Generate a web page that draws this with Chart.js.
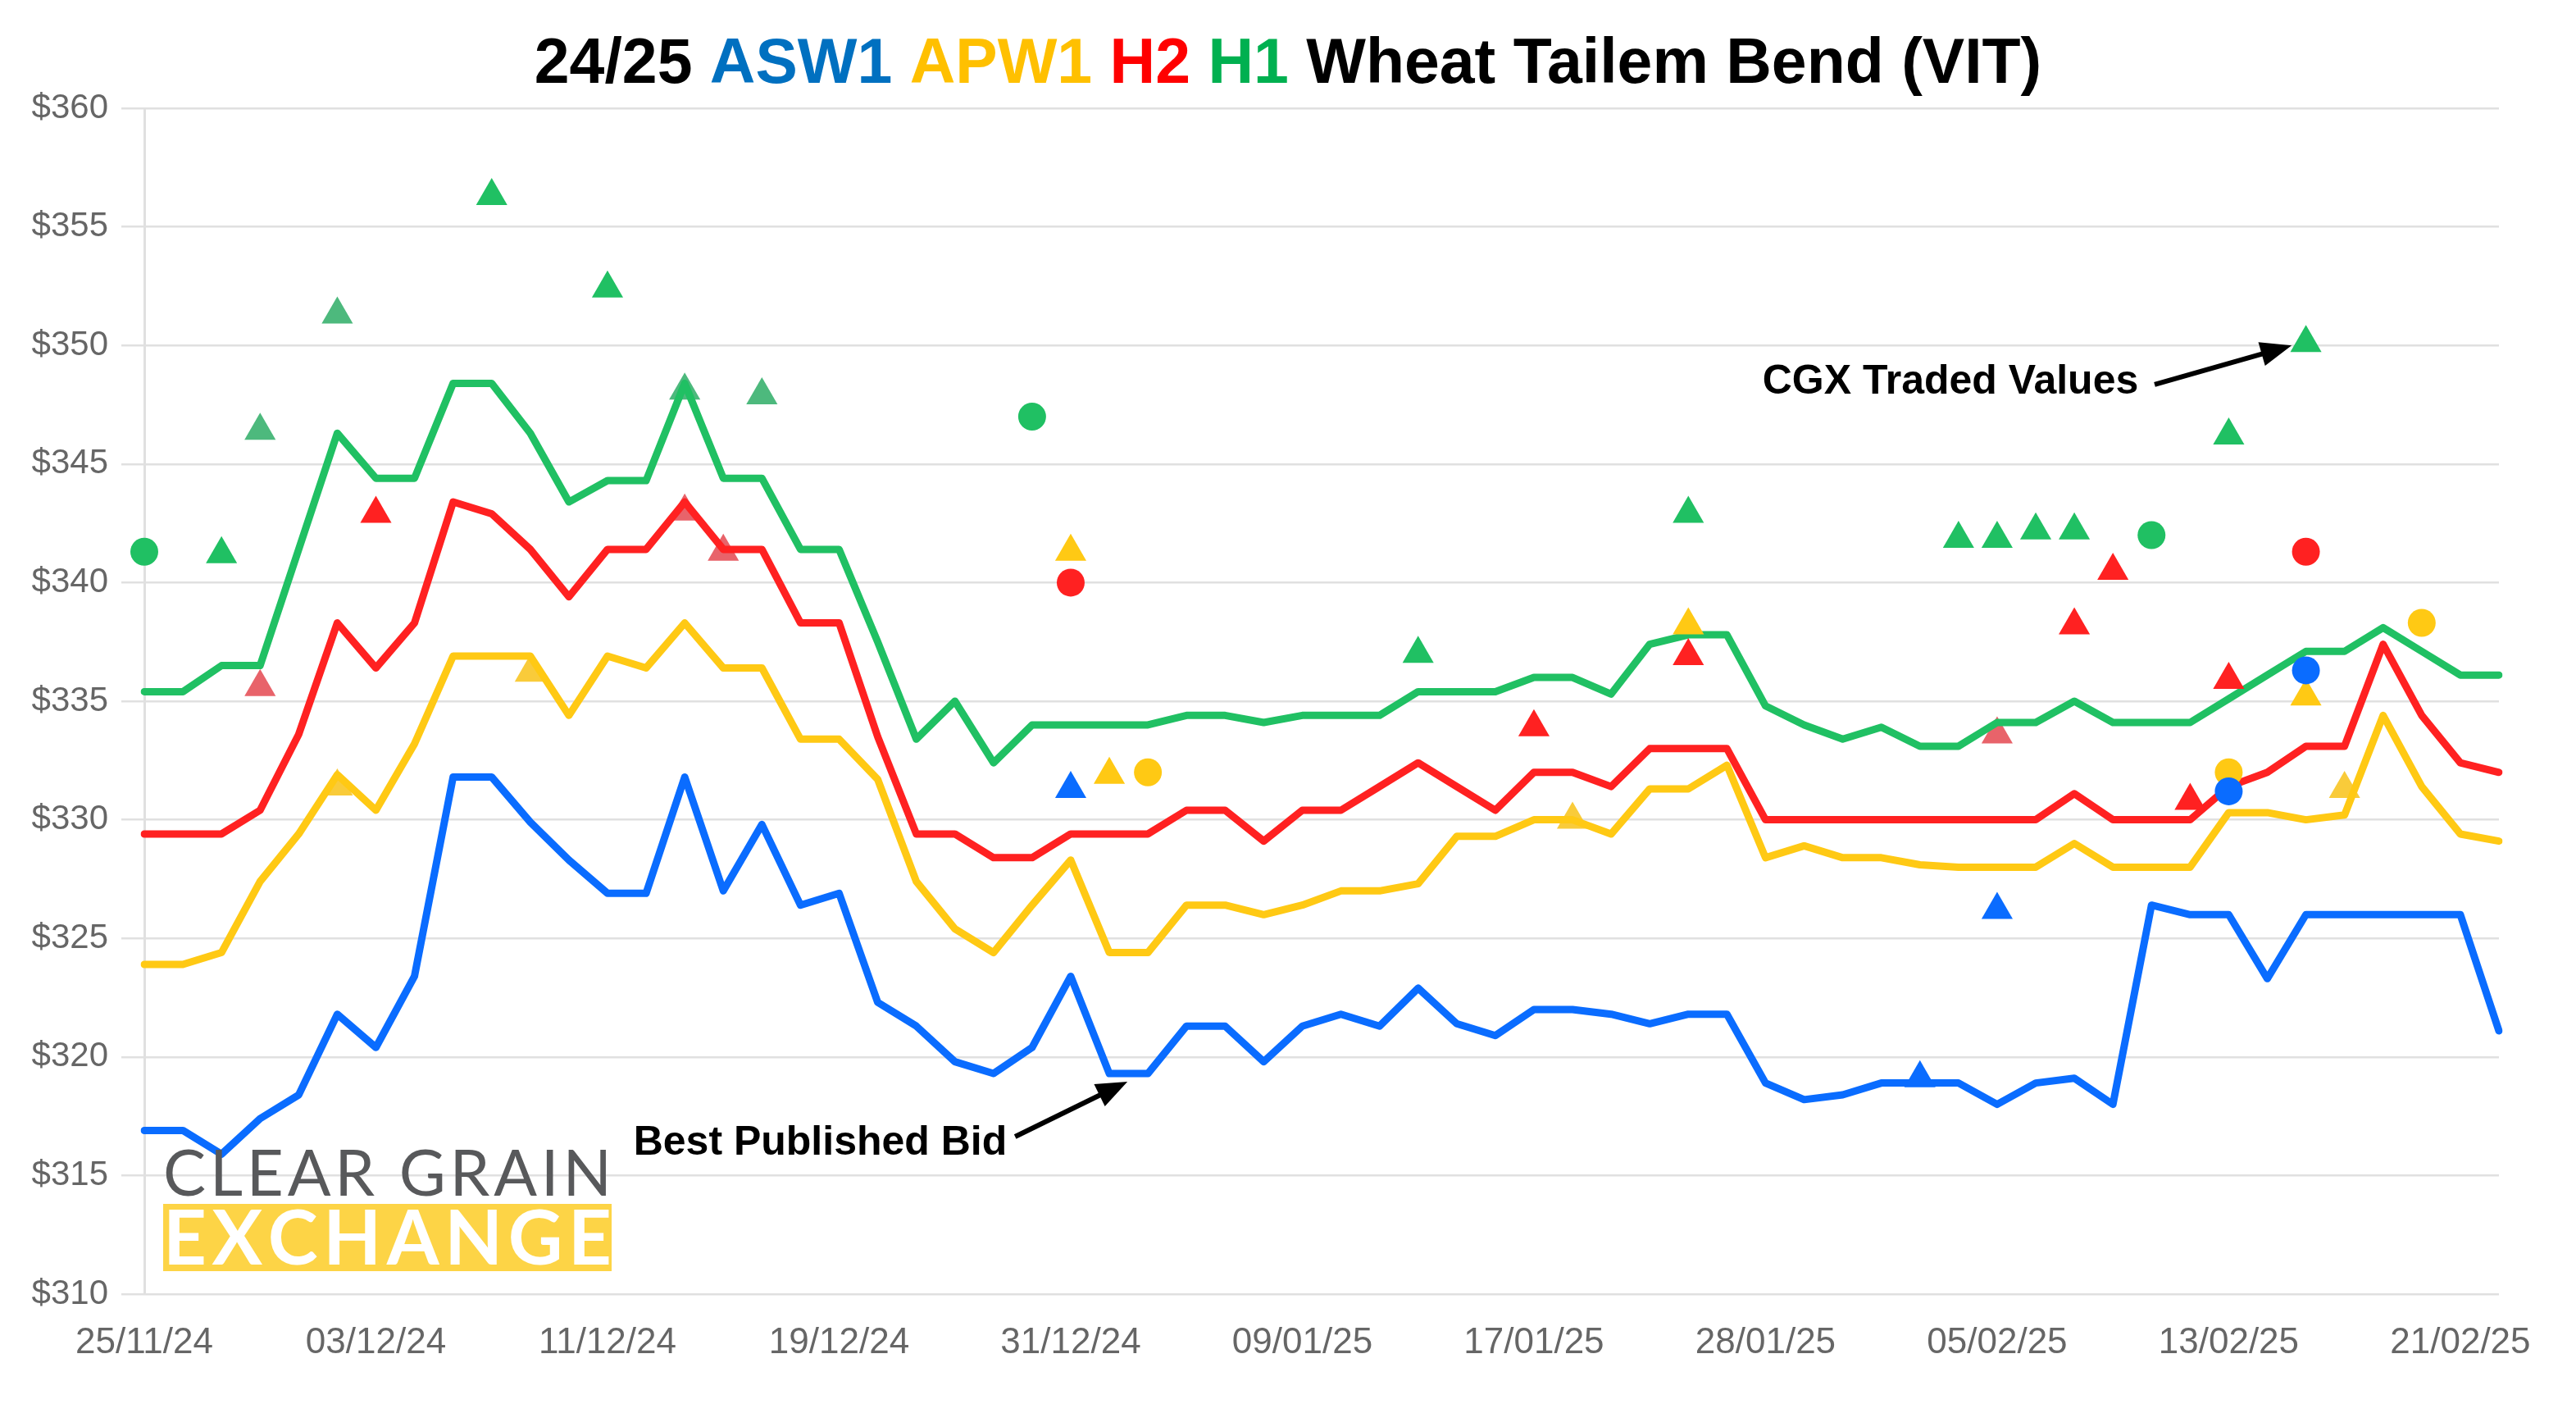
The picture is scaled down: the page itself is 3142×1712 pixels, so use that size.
<!DOCTYPE html>
<html>
<head>
<meta charset="utf-8">
<script src="https://cdn.jsdelivr.net/npm/chart.js@4.4.1/dist/chart.umd.min.js"></script>
<style>
  html, body { margin: 0; padding: 0; background: #fff; }
  #wrap { width: 3142px; height: 1712px; position: relative; }
</style>
</head>
<body>
<div id="wrap"><canvas id="graph"></canvas></div>
<script>
// trading days
const dates = [
  '25/11/24','26/11/24','27/11/24','28/11/24','29/11/24','02/12/24','03/12/24','04/12/24','05/12/24','06/12/24',
  '09/12/24','10/12/24','11/12/24','12/12/24','13/12/24','16/12/24','17/12/24','18/12/24','19/12/24','20/12/24',
  '23/12/24','24/12/24','27/12/24','30/12/24','31/12/24','02/01/25','03/01/25','06/01/25','07/01/25','08/01/25',
  '09/01/25','10/01/25','13/01/25','14/01/25','15/01/25','16/01/25','17/01/25','20/01/25','21/01/25','22/01/25',
  '23/01/25','24/01/25','28/01/25','29/01/25','30/01/25','31/01/25','03/02/25','04/02/25','05/02/25','06/02/25',
  '07/02/25','10/02/25','11/02/25','12/02/25','13/02/25','14/02/25','17/02/25','18/02/25','19/02/25','20/02/25',
  '21/02/25','24/02/25'
];

// best published bids
const asw1Bid = [
  316.9, 316.9, 315.9, 317.4, 318.4, 321.8, 320.4, 323.4, 331.8, 331.8,
  329.9, 328.3, 326.9, 326.9, 331.8, 327.0, 329.8, 326.4, 326.9, 322.3,
  321.3, 319.8, 319.3, 320.4, 323.4, 319.3, 319.3, 321.3, 321.3, 319.8,
  321.3, 321.8, 321.3, 322.9, 321.4, 320.9, 322.0, 322.0, 321.8, 321.4,
  321.8, 321.8, 318.9, 318.2, 318.4, 318.9, 318.9, 318.9, 318.0, 318.9,
  319.1, 318.0, 326.4, 326.0, 326.0, 323.3, 326.0, 326.0, 326.0, 326.0,
  326.0, 321.1
];
const apw1Bid = [
  323.9, 323.9, 324.4, 327.4, 329.4, 331.9, 330.4, 333.2, 336.9, 336.9,
  336.9, 334.4, 336.9, 336.4, 338.3, 336.4, 336.4, 333.4, 333.4, 331.7,
  327.4, 325.4, 324.4, 326.4, 328.3, 324.4, 324.4, 326.4, 326.4, 326.0,
  326.4, 327.0, 327.0, 327.3, 329.3, 329.3, 330.0, 330.0, 329.4, 331.3,
  331.3, 332.3, 328.4, 328.9, 328.4, 328.4, 328.1, 328.0, 328.0, 328.0,
  329.0, 328.0, 328.0, 328.0, 330.3, 330.3, 330.0, 330.2, 334.4, 331.4,
  329.4, 329.1
];
const h2Bid = [
  329.4, 329.4, 329.4, 330.4, 333.6, 338.3, 336.4, 338.3, 343.4, 342.9,
  341.4, 339.4, 341.4, 341.4, 343.4, 341.4, 341.4, 338.3, 338.3, 333.5,
  329.4, 329.4, 328.4, 328.4, 329.4, 329.4, 329.4, 330.4, 330.4, 329.1,
  330.4, 330.4, 331.4, 332.4, 331.4, 330.4, 332.0, 332.0, 331.4, 333.0,
  333.0, 333.0, 330.0, 330.0, 330.0, 330.0, 330.0, 330.0, 330.0, 330.0,
  331.1, 330.0, 330.0, 330.0, 331.4, 332.0, 333.1, 333.1, 337.4, 334.4,
  332.4, 332.0
];
const h1Bid = [
  335.4, 335.4, 336.5, 336.5, 341.4, 346.3, 344.4, 344.4, 348.4, 348.4,
  346.3, 343.4, 344.3, 344.3, 348.4, 344.4, 344.4, 341.4, 341.4, 337.5,
  333.4, 335.0, 332.4, 334.0, 334.0, 334.0, 334.0, 334.4, 334.4, 334.1,
  334.4, 334.4, 334.4, 335.4, 335.4, 335.4, 336.0, 336.0, 335.3, 337.4,
  337.8, 337.8, 334.8, 334.0, 333.4, 333.9, 333.1, 333.1, 334.1, 334.1,
  335.0, 334.1, 334.1, 334.1, 335.1, 336.1, 337.1, 337.1, 338.1, 337.1,
  336.1, 336.1
];

// CGX traded values: [day index, price]
const h1Tri = [[2, 341.2], [9, 356.3], [12, 352.4], [33, 337.0], [40, 342.9], [47, 341.85], [48, 341.85], [49, 342.2], [50, 342.2], [54, 346.2], [56, 350.1]];
const h1TriFaded = [[3, 346.4], [5, 351.3], [14, 348.1], [16, 347.9]];
const h1Dot = [[0, 341.3], [23, 347.0], [52, 342.0]];
const h2Tri = [[6, 342.9], [36, 333.9], [40, 336.9], [50, 338.2], [51, 340.5], [53, 330.8], [54, 335.9]];
const h2TriFaded = [[3, 335.6], [14, 343.0], [15, 341.3], [48, 333.6]];
const h2Dot = [[24, 340.0], [56, 341.3]];
const apw1Tri = [[24, 341.3], [25, 331.9], [40, 338.2], [56, 335.2]];
const apw1TriFaded = [[5, 331.4], [10, 336.2], [37, 330.0], [57, 331.3]];
const apw1Dot = [[26, 332.0], [54, 332.0], [59, 338.3]];
const asw1Tri = [[24, 331.3], [46, 319.1], [48, 326.2]];
const asw1Dot = [[54, 331.2], [56, 336.3]];

const BLUE = '#0a6cff', YELLOW = '#ffc914', RED = '#ff2121', GREEN = '#20c063';

function toPoints(list) {
  return list.map(([i, v]) => ({ x: dates[i], y: v }));
}

function bidLine(label, data, color) {
  return {
    label, data,
    borderColor: color, backgroundColor: color,
    borderWidth: 9, pointRadius: 0, tension: 0,
    borderJoinStyle: 'round', borderCapStyle: 'round',
    order: 2
  };
}

function marks(label, list, color, style, order) {
  return {
    label, data: toPoints(list),
    showLine: false,
    pointStyle: style,
    pointRadius: style === 'triangle' ? 22 : 17,
    pointBackgroundColor: color, pointBorderColor: color, pointBorderWidth: 0,
    order
  };
}

Chart.defaults.font.family = '"Liberation Sans", Arial, sans-serif';

const titleParts = [
  ['24/25 ', '#000'], ['ASW1 ', '#0070c0'], ['APW1 ', '#ffc000'],
  ['H2 ', '#ff0000'], ['H1 ', '#00b050'], ['Wheat Tailem Bend (VIT)', '#000']
];

// spread glyphs so the text fills a given width
function spreadText(ctx, text, x, y, width) {
  const chars = text.split('');
  const w0 = chars.reduce((s, c) => s + ctx.measureText(c).width, 0);
  const gap = (width - w0) / (chars.length - 1);
  chars.forEach(c => {
    ctx.fillText(c, x, y);
    x += ctx.measureText(c).width + gap;
  });
}

function arrow(ctx, x1, y1, x2, y2) {
  const a = Math.atan2(y2 - y1, x2 - x1);
  const head = 38, half = 15;
  ctx.strokeStyle = '#000';
  ctx.fillStyle = '#000';
  ctx.lineWidth = 6;
  ctx.beginPath();
  ctx.moveTo(x1, y1);
  ctx.lineTo(x2 - Math.cos(a) * head * 0.8, y2 - Math.sin(a) * head * 0.8);
  ctx.stroke();
  ctx.beginPath();
  ctx.moveTo(x2, y2);
  ctx.lineTo(x2 - Math.cos(a) * head - Math.sin(a) * half, y2 - Math.sin(a) * head + Math.cos(a) * half);
  ctx.lineTo(x2 - Math.cos(a) * head + Math.sin(a) * half, y2 - Math.sin(a) * head - Math.cos(a) * half);
  ctx.closePath();
  ctx.fill();
}

const notes = [
  { text: 'CGX Traded Values', at: [51.66, 348.45], tail: [52.08, 348.35], tip: [55.63, 350.0] },
  { text: 'Best Published Bid', at: [22.35, 316.36], tail: [22.56, 316.64], tip: [25.47, 318.96] }
];

const decorations = {
  id: 'decorations',
  afterDatasetsDraw(chart) {
    const ctx = chart.ctx;
    const xs = chart.scales.x, ys = chart.scales.y;
    ctx.save();

    // annotations
    ctx.font = 'bold 50px "Liberation Sans", Arial, sans-serif';
    ctx.textAlign = 'right';
    ctx.textBaseline = 'middle';
    ctx.fillStyle = '#000';
    notes.forEach(n => {
      ctx.fillText(n.text, xs.getPixelForValue(n.at[0]), ys.getPixelForValue(n.at[1]));
      arrow(ctx, xs.getPixelForValue(n.tail[0]), ys.getPixelForValue(n.tail[1]),
        xs.getPixelForValue(n.tip[0]), ys.getPixelForValue(n.tip[1]));
    });

    // logo
    ctx.textAlign = 'left';
    ctx.textBaseline = 'alphabetic';
    ctx.fillStyle = '#58595b';
    ctx.font = '400 78px Lato, "Open Sans", sans-serif';
    spreadText(ctx, 'CLEAR GRAIN', 199, 1458, 547);
    ctx.fillStyle = '#fdd446';
    ctx.fillRect(199, 1468, 547, 82);
    ctx.fillStyle = '#fff';
    ctx.font = 'bold 92px Lato, "Open Sans", sans-serif';
    spreadText(ctx, 'EXCHANGE', 199, 1542, 547);

    ctx.restore();
  },
  afterDraw(chart) {
    const ctx = chart.ctx;
    ctx.save();
    ctx.font = 'bold 77px "Liberation Sans", Arial, sans-serif';
    ctx.textBaseline = 'alphabetic';
    ctx.textAlign = 'left';
    const total = titleParts.reduce((s, p) => s + ctx.measureText(p[0]).width, 0);
    let x = chart.width / 2 - total / 2;
    titleParts.forEach(([t, c]) => {
      ctx.fillStyle = c;
      ctx.fillText(t, x, 101);
      x += ctx.measureText(t).width;
    });
    ctx.restore();
  }
};

const ctx = document.getElementById('graph').getContext('2d');
const chart = new Chart(ctx, {
  type: 'line',
  data: {
    labels: dates,
    datasets: [
      marks('ASW1 traded', asw1Tri, BLUE, 'triangle', 0),
      marks('ASW1 traded', asw1Dot, BLUE, 'circle', 0),
      marks('APW1 traded', apw1Tri, YELLOW, 'triangle', 0),
      marks('APW1 traded', apw1Dot, YELLOW, 'circle', 0),
      marks('H2 traded', h2Tri, RED, 'triangle', 0),
      marks('H2 traded', h2Dot, RED, 'circle', 0),
      marks('H1 traded', h1Tri, GREEN, 'triangle', 0),
      marks('H1 traded', h1Dot, GREEN, 'circle', 0),
      bidLine('H1', h1Bid, GREEN),
      bidLine('H2', h2Bid, RED),
      bidLine('APW1', apw1Bid, YELLOW),
      bidLine('ASW1', asw1Bid, BLUE),
      marks('H1 traded', h1TriFaded, '#4db97d', 'triangle', 3),
      marks('H2 traded', h2TriFaded, '#e8636a', 'triangle', 3),
      marks('APW1 traded', apw1TriFaded, '#f9cb3a', 'triangle', 3)
    ]
  },
  options: {
    responsive: true,
    maintainAspectRatio: false,
    devicePixelRatio: 1,
    animation: false,
    layout: { padding: { top: 132, right: 94, bottom: 0, left: 0 } },
    plugins: {
      legend: { display: false },
      title: { display: false },
      tooltip: { enabled: false }
    },
    scales: {
      x: {
        grid: { display: false, drawTicks: false },
        border: { display: false },
        afterFit: (s) => { s.height = 134; },
        ticks: {
          autoSkip: false,
          maxRotation: 0,
          padding: 33,
          color: '#666',
          font: { size: 44 },
          callback: (v, i) => (i % 6 === 0 ? dates[i] : '')
        }
      },
      y: {
        min: 310,
        max: 360,
        afterFit: (s) => { s.width = 176; },
        grid: { color: '#e0e0e0', lineWidth: 2.5, tickLength: 28 },
        border: { display: true, color: '#e0e0e0', width: 3 },
        ticks: {
          stepSize: 5,
          padding: 16,
          color: '#666',
          font: { size: 42 },
          callback: (v) => '$' + v
        }
      }
    }
  },
  plugins: [decorations]
});
</script>
</body>
</html>
